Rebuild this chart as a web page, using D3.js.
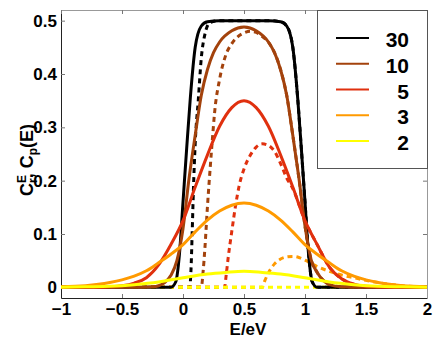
<!DOCTYPE html>
<html>
<head>
    <meta charset="utf-8">
    <script src="https://cdnjs.cloudflare.com/ajax/libs/d3/7.8.5/d3.min.js"></script>
    <style>
        html, body {
            margin: 0;
            padding: 0;
            background: white;
        }
        svg {
            display: block;
            font-family: "Liberation Sans", Arial, Helvetica, sans-serif;
            font-weight: bold;
        }
    </style>
</head>
<body>
<svg id="chart" width="436" height="339"></svg>
<script>
// values, [E, C]
var solid30 = [[-1,0],[-0.3,0],[-0.1,0],[-0.06,0.01],[-0.03,0.06],[0,0.16],[0.03,0.26],[0.06,0.355],[0.1,0.45],[0.15,0.49],[0.2,0.498],[0.3,0.5],[0.5,0.5],[0.7,0.5],[0.8,0.498],[0.85,0.49],[0.9,0.45],[0.94,0.355],[0.97,0.26],[1.0,0.16],[1.03,0.06],[1.06,0.01],[1.1,0],[1.3,0],[2,0]];
var dash30 = [[-1,0],[0.055,0],[0.065,0.03],[0.075,0.1],[0.085,0.18],[0.1,0.27],[0.125,0.35],[0.15,0.43],[0.18,0.475],[0.22,0.496],[0.3,0.5],[0.5,0.5],[0.7,0.5],[0.8,0.498],[0.85,0.49],[0.9,0.45],[0.94,0.355],[0.97,0.26],[1.0,0.16],[1.03,0.06],[1.06,0.01],[1.1,0],[2,0]];

var solid10 = [[-1,0],[-0.4,0],[-0.25,0.001],[-0.2,0.003],[-0.15,0.009],[-0.1,0.022],[-0.05,0.05],[0,0.11],[0.05,0.205],[0.1,0.285],[0.15,0.36],[0.2,0.408],[0.25,0.44],[0.3,0.46],[0.4,0.481],[0.5,0.488],[0.6,0.481],[0.7,0.46],[0.75,0.44],[0.8,0.408],[0.85,0.36],[0.9,0.285],[0.95,0.205],[1.0,0.115],[1.05,0.052],[1.1,0.028],[1.15,0.013],[1.2,0.005],[1.3,0.001],[1.5,0],[2,0]];
var dash10 = [[-1,0],[0.15,0],[0.165,0.03],[0.18,0.075],[0.2,0.15],[0.22,0.215],[0.24,0.275],[0.26,0.33],[0.3,0.39],[0.35,0.435],[0.4,0.457],[0.45,0.47],[0.5,0.477],[0.55,0.48],[0.6,0.478],[0.65,0.47],[0.7,0.46],[0.75,0.44],[0.8,0.408],[0.85,0.36],[0.9,0.285],[0.95,0.205],[1.0,0.115],[1.05,0.052],[1.1,0.028],[1.15,0.013],[1.2,0.005],[1.3,0.001],[1.5,0],[2,0]];

var solid5 = [[-1,0],[-0.7,0],[-0.6,0.001],[-0.5,0.003],[-0.4,0.008],[-0.3,0.018],[-0.2,0.042],[-0.1,0.08],[0,0.125],[0.1,0.188],[0.2,0.248],[0.3,0.302],[0.4,0.337],[0.5,0.35],[0.6,0.337],[0.7,0.302],[0.8,0.248],[0.9,0.188],[1.0,0.125],[1.1,0.08],[1.2,0.038],[1.3,0.016],[1.4,0.006],[1.5,0.002],[1.7,0],[2,0]];
var dash5 = [[-1,0],[0.34,0],[0.355,0.025],[0.37,0.055],[0.4,0.105],[0.43,0.152],[0.46,0.19],[0.5,0.222],[0.55,0.247],[0.6,0.263],[0.65,0.269],[0.7,0.266],[0.75,0.255],[0.8,0.232],[0.85,0.205],[0.9,0.185],[1.0,0.125],[1.1,0.08],[1.2,0.038],[1.3,0.016],[1.4,0.006],[1.5,0.002],[1.7,0],[2,0]];

var solid3 = [[-1,0.001],[-0.8,0.003],[-0.6,0.009],[-0.5,0.014],[-0.4,0.021],[-0.3,0.031],[-0.2,0.046],[-0.1,0.062],[0,0.08],[0.1,0.104],[0.2,0.126],[0.3,0.143],[0.4,0.154],[0.5,0.158],[0.6,0.154],[0.7,0.143],[0.8,0.126],[0.9,0.104],[1.0,0.08],[1.1,0.062],[1.2,0.046],[1.3,0.031],[1.4,0.021],[1.5,0.014],[1.6,0.009],[1.8,0.003],[2,0.001]];
var dash3 = [[-1,0],[0.65,0],[0.67,0.012],[0.7,0.027],[0.75,0.044],[0.8,0.053],[0.85,0.057],[0.9,0.058],[0.95,0.056],[1.0,0.051],[1.05,0.045],[1.1,0.039],[1.2,0.03],[1.3,0.023],[1.4,0.018],[1.5,0.013],[1.6,0.009],[1.8,0.003],[2,0.001]];

var solid2 = [[-1,0],[-0.8,0.001],[-0.6,0.002],[-0.4,0.005],[-0.2,0.01],[0,0.018],[0.2,0.025],[0.35,0.028],[0.5,0.03],[0.65,0.028],[0.8,0.025],[1.0,0.018],[1.2,0.01],[1.4,0.005],[1.6,0.002],[1.8,0.001],[2,0]];
var dash2 = [[-1,0],[2,0]];

var legendLabels = ["30", "10", "5", "3", "2"];
var xTicks = [-1, -0.5, 0, 0.5, 1, 1.5, 2];
var yTicks = [0, 0.1, 0.2, 0.3, 0.4, 0.5];

var colors = ["#000000", "#a3420c", "#e0300e", "#ff9a00", "#ffff00"];
var solids = [solid30, solid10, solid5, solid3, solid2];
var dashes = [dash30, dash10, dash5, dash3, dash2];

var svg = d3.select("#chart");
// plot box (window.top is read-only, so keep these in an object)
var box = {left: 61, right: 427, top: 10, bottom: 298};

var x = d3.scaleLinear().domain([-1, 2]).range([box.left, box.right]);
var y = d3.scaleLinear().domain([-0.02, 0.52]).range([box.bottom, box.top]);

var fmt = function(d) { return d < 0 ? "\u2212" + Math.abs(d) : String(d); };

// axes, ticks pointing inward on all four sides
var gx = svg.append("g").attr("transform", "translate(0," + box.bottom + ")")
    .call(d3.axisBottom(x).tickValues(xTicks).tickFormat(fmt).tickSize(-4).tickSizeOuter(0).tickPadding(5));
var gy = svg.append("g").attr("transform", "translate(" + box.left + ",0)")
    .call(d3.axisLeft(y).tickValues(yTicks).tickFormat(fmt).tickSize(-4).tickSizeOuter(0).tickPadding(4));
var gt = svg.append("g").attr("transform", "translate(0," + box.top + ")")
    .call(d3.axisTop(x).tickValues(xTicks).tickFormat("").tickSize(-4).tickSizeOuter(0));
var gr = svg.append("g").attr("transform", "translate(" + box.right + ",0)")
    .call(d3.axisRight(y).tickValues(yTicks).tickFormat("").tickSize(-4).tickSizeOuter(0));

[gx, gy].forEach(function(g) {
    g.select(".domain").attr("stroke", "#222");
    g.selectAll(".tick line").attr("stroke", "#777");
    g.selectAll("text").attr("fill", "#000").style("font-size", "17px")
        .style("font-family", "'Liberation Sans', Arial, sans-serif").style("font-weight", "bold");
});
[gt, gr].forEach(function(g) {
    g.select(".domain").attr("stroke", "#999");
    g.selectAll(".tick line").attr("stroke", "#777");
});

var line = d3.line()
    .x(function(d) { return x(d[0]); })
    .y(function(d) { return y(d[1]); })
    .curve(d3.curveMonotoneX);

var plot = svg.append("g");

// dashed (C_p) go underneath, solids on top
plot.selectAll("path.dash").data(dashes).enter().append("path")
    .attr("class", "dash")
    .attr("d", line)
    .attr("fill", "none")
    .attr("stroke", function(d, i) { return colors[i]; })
    .attr("stroke-width", 3)
    .attr("stroke-dasharray", "5,4");

plot.selectAll("path.solid").data(solids).enter().append("path")
    .attr("class", "solid")
    .attr("d", line)
    .attr("fill", "none")
    .attr("stroke", function(d, i) { return colors[i]; })
    .attr("stroke-width", 3);

// legend
var legend = svg.append("g");
legend.append("rect")
    .attr("x", 317.5).attr("y", 10.5)
    .attr("width", 110).attr("height", 158)
    .attr("fill", "white").attr("stroke", "#555");

var rowY = d3.scalePoint().domain(legendLabels).range([38, 141]);
var row = legend.selectAll("g.row").data(legendLabels).enter().append("g")
    .attr("class", "row")
    .attr("transform", function(d) { return "translate(0," + rowY(d) + ")"; });
row.append("line")
    .attr("x1", 336).attr("x2", 369)
    .attr("stroke", function(d, i) { return colors[i]; })
    .attr("stroke-width", 2);
row.append("text")
    .attr("x", 409).attr("y", 9)
    .attr("text-anchor", "end")
    .style("font-size", "21px")
    .text(function(d) { return d; });

// axis labels
svg.append("text")
    .attr("x", (box.left + box.right) / 2 + 4).attr("y", 335)
    .attr("text-anchor", "middle")
    .style("font-size", "17px")
    .text("E/eV");

var yl = svg.append("text")
    .attr("transform", "translate(33,160) rotate(-90)")
    .attr("text-anchor", "middle")
    .style("font-size", "18px");
yl.append("tspan").text("C");
yl.append("tspan").attr("dy", -7).style("font-size", "12px").text("E");
yl.append("tspan").attr("dx", -8).attr("dy", 11).style("font-size", "12px").text("r");
yl.append("tspan").attr("dy", -4).text(", C");
yl.append("tspan").attr("dy", 4).style("font-size", "12px").text("p");
yl.append("tspan").attr("dy", -4).text("(E)");
</script>
</body>
</html>
